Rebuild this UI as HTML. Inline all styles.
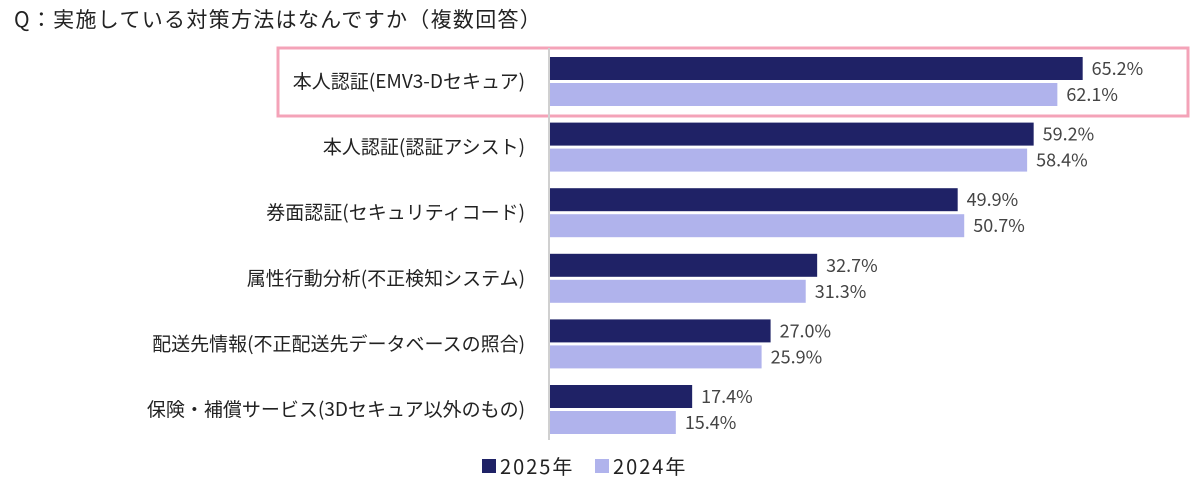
<!DOCTYPE html>
<html><head><meta charset="utf-8">
<style>
body{margin:0;width:1200px;height:494px;background:#fff;overflow:hidden;font-family:"Noto Sans CJK JP","Liberation Sans",sans-serif;}
svg text{font-family:"Noto Sans CJK JP","Liberation Sans",sans-serif;}
</style></head>
<body>
<svg id="chart" width="1200" height="494">
<text x="14" y="27" font-size="21" letter-spacing="1.3" fill="#222">Q：実施している対策方法はなんですか（複数回答）</text>
<rect x="278" y="48" width="910" height="68" fill="none" stroke="#f4a3b8" stroke-width="3"/>
<line x1="549" y1="48" x2="549" y2="440" stroke="#d0d0d0" stroke-width="2"/>
<g id="bars"></g>
<rect x="482" y="459" width="14" height="14" fill="#1f2266"/>
<text x="500" y="474" font-size="20" letter-spacing="2" fill="#222">2025年</text>
<rect x="595" y="459" width="14" height="14" fill="#b0b3ec"/>
<text x="613" y="474" font-size="20" letter-spacing="2" fill="#222">2024年</text>
</svg>
<script>
const categories=["本人認証(EMV3-Dセキュア)","本人認証(認証アシスト)","券面認証(セキュリティコード)","属性行動分析(不正検知システム)","配送先情報(不正配送先データベースの照合)","保険・補償サービス(3Dセキュア以外のもの)"];
const values2025=[65.2,59.2,49.9,32.7,27.0,17.4];
const values2024=[62.1,58.4,50.7,31.3,25.9,15.4];
const x0=550, scale=8.17, top0=57, step=65.6, bh=23;
const g=document.getElementById('bars');
const NS='http://www.w3.org/2000/svg';
function xs(v){return v*scale;}
categories.forEach((c,i)=>{
  const y=top0+i*step;
  const t=document.createElementNS(NS,'text');
  t.setAttribute('x',525);t.setAttribute('y',y+31);t.setAttribute('font-size','19');t.setAttribute('text-anchor','end');t.setAttribute('fill','#222');
  t.textContent=c;
  
  
  g.appendChild(t);
  [[values2025[i],'#1f2266',0,'2025'],[values2024[i],'#b0b3ec',26,'2024']].forEach(([v,col,off,yr])=>{
    const r=document.createElementNS(NS,'rect');
    r.setAttribute('x',x0);r.setAttribute('y',y+off);r.setAttribute('width',xs(v));r.setAttribute('height',bh);r.setAttribute('fill',col);
    
    
    g.appendChild(r);
    const l=document.createElementNS(NS,'text');
    l.setAttribute('x',x0+xs(v)+9);l.setAttribute('y',y+off+18);l.setAttribute('font-size','18');l.setAttribute('fill','#444');
    l.textContent=v.toFixed(1)+'%';
    
    
    g.appendChild(l);
  });
});
</script>
</body></html>
